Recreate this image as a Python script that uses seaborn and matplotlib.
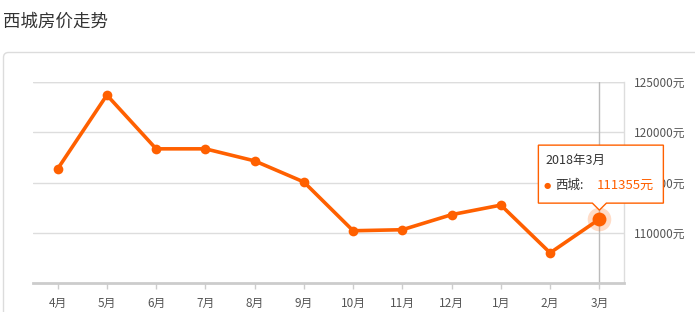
import matplotlib
matplotlib.use("Agg")
import matplotlib.pyplot as plt
import seaborn as sns
import pandas as pd
from matplotlib.patches import FancyBboxPatch, Polygon
from matplotlib.transforms import IdentityTransform

months = ["4月", "5月", "6月", "7月", "8月", "9月", "10月", "11月", "12月", "1月", "2月", "3月"]
prices = [116350, 123700, 118350, 118350, 117150, 115050, 110200, 110300, 111800, 112750, 108000, 111355]
yticks = [110000, 115000, 120000, 125000]
ytick_labels = ["110000元", "115000元", "120000元", "125000元"]
title = "西城房价走势"
tip_title = "2018年3月"
tip_series = "西城:"
tip_value = "111355元"

sns.set_theme(style="white")
plt.rcParams['font.family'] = ['Noto Sans CJK SC', 'DejaVu Sans']

W, H = 695, 312
fig = plt.figure(figsize=(W / 100, H / 100), dpi=100)
orange = "#ff6000"
grid_c = "#dddddd"

# outer panel frame
frame = FancyBboxPatch((3.5, -20), 720, H - 52.5 + 20, boxstyle="round,pad=0,rounding_size=5",
                       transform=IdentityTransform(), facecolor="white", edgecolor="#dcdcdc",
                       linewidth=1, zorder=-5)
fig.patches.append(frame)

fig.text(3 / W, 1 - 22 / H, title, fontsize=12.6, color="#333333", va="center", ha="left")

ax = fig.add_axes([33 / W, 1 - 283 / H, (624 - 33) / W, (283 - 82) / H])
ax.set_zorder(1)
ax.set_facecolor("none")
df = pd.DataFrame({"month": months, "price": prices})
sns.lineplot(data=df, x="month", y="price", sort=False, ax=ax, color=orange, linewidth=2.6,
             marker="o", markersize=7, markeredgewidth=0, zorder=3)
ax.set_xlim(-0.5, len(months) - 0.5)
ax.set_ylim(105000, 125000)
ax.set_xlabel("")
ax.set_ylabel("")

for s in ["top", "left"]:
    ax.spines[s].set_visible(False)
ax.spines["right"].set_color(grid_c)
ax.spines["right"].set_linewidth(1)
ax.spines["bottom"].set_color("#cccccc")
ax.spines["bottom"].set_linewidth(2)

ax.yaxis.tick_right()
ax.set_yticks(yticks)
ax.set_yticklabels(ytick_labels)
ax.tick_params(axis="y", length=0, pad=7, labelsize=8.5, labelcolor="#555555")
ax.tick_params(axis="x", length=4, width=1, color="#cccccc", pad=6, labelsize=8.5, labelcolor="#555555",
               bottom=True)
ax.set_xticks(range(len(months)))
ax.set_xticklabels(months)
ax.grid(axis="y", color=grid_c, linewidth=1)
ax.grid(axis="x", visible=False)
ax.axhline(125000, color=grid_c, linewidth=1, zorder=1)

# cursor line and highlighted point
last = len(months) - 1
ax.axvline(last, color="#bbbbbb", linewidth=1, zorder=2)
ax.plot([last], [prices[-1]], marker="o", markersize=17, color=orange, alpha=0.22,
        markeredgewidth=0, zorder=4, clip_on=False)
ax.plot([last], [prices[-1]], marker="o", markersize=10, color=orange,
        markeredgewidth=0, zorder=5, clip_on=False)

# tooltip anchored at highlighted point (display pixels)
fig.canvas.draw()
px, py = ax.transData.transform((last, prices[-1]))
left, right = px - 61, px + 64
bottom, top = py + 16, py + 74
tip = py + 9
poly = Polygon([(left, bottom), (px - 7, bottom), (px, tip), (px + 7, bottom), (right, bottom),
                (right, top), (left, top)], closed=True, transform=IdentityTransform(),
               facecolor="white", edgecolor=orange, linewidth=1, zorder=10)
fig.patches.append(poly)
fig.text((left + 7) / W, (top - 15) / H, tip_title, fontsize=9, color="#333333",
         va="center", ha="left", zorder=11)
fig.text((left + 5) / W, (top - 40) / H, "●", fontsize=6, color=orange, va="center", ha="left",
         family=["DejaVu Sans"], zorder=11)
fig.text((left + 17) / W, (top - 40) / H, tip_series, fontsize=9, color="#333333",
         va="center", ha="left", zorder=11)
fig.text((left + 58) / W, (top - 40) / H, tip_value, fontsize=9.5, color=orange,
         va="center", ha="left", zorder=11)

fig.savefig("out.png", dpi=100)
